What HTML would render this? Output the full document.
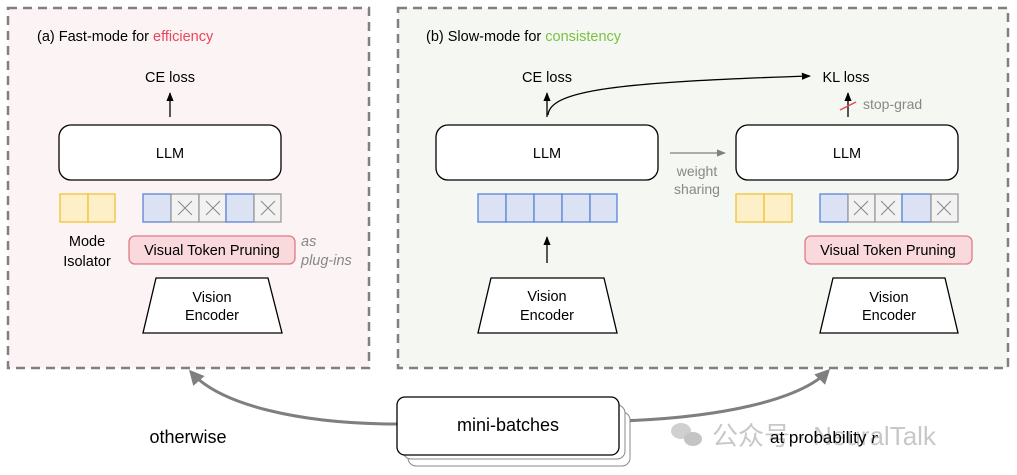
<!DOCTYPE html>
<html><head><meta charset="utf-8"><style>
html,body{margin:0;padding:0;background:#fff;width:1017px;height:475px;overflow:hidden}
text{font-family:"Liberation Sans","Noto Sans CJK SC",sans-serif}
</style></head><body>
<svg width="1017" height="475" viewBox="0 0 1017 475" xmlns="http://www.w3.org/2000/svg">
<defs>
<marker id="ab" viewBox="0 0 10 10" refX="9" refY="5" markerWidth="7" markerHeight="7" orient="auto"><path d="M0,1 L10,5 L0,9 z" fill="#000"/></marker>
<marker id="ag" viewBox="0 0 10 10" refX="9" refY="5" markerWidth="7" markerHeight="7" orient="auto"><path d="M0,1 L10,5 L0,9 z" fill="#808080"/></marker>
<marker id="agb" viewBox="0 0 10 10" refX="8" refY="5" markerWidth="5" markerHeight="5" orient="auto"><path d="M0,0 L10,5 L0,10 z" fill="#7f7f7f"/></marker>
</defs>
<rect x="8" y="8" width="361" height="360" fill="#fcf4f4" stroke="#808080" stroke-width="2.5" stroke-dasharray="9,6"/>
<rect x="398" y="8" width="610" height="360" fill="#f5f7f2" stroke="#808080" stroke-width="2.5" stroke-dasharray="9,6"/>
<text x="37" y="41" font-size="14.5" fill="#000">(a) Fast-mode for <tspan fill="#e9455a">efficiency</tspan></text>
<text x="170" y="82" font-size="14.5" text-anchor="middle">CE loss</text>
<line x1="170" y1="117" x2="170" y2="93" stroke="#000" stroke-width="1.3" marker-end="url(#ab)"/>
<rect x="59" y="125" width="222" height="55" rx="12" fill="#fff" stroke="#000" stroke-width="1.3"/>
<text x="170" y="158" font-size="14.5" text-anchor="middle">LLM</text>
<rect x="60" y="194" width="28" height="28" fill="#fdf0c8" stroke="#f1c232" stroke-width="1.3"/>
<rect x="88" y="194" width="27" height="28" fill="#fdf0c8" stroke="#f1c232" stroke-width="1.3"/>
<g stroke-width="1.3">
<rect x="143" y="194" width="28" height="28" fill="#dae2f4" stroke="#5b84d6"/>
<rect x="171" y="194" width="28" height="28" fill="#f2f2f2" stroke="#999"/>
<rect x="199" y="194" width="27" height="28" fill="#f2f2f2" stroke="#999"/>
<rect x="226" y="194" width="28" height="28" fill="#dae2f4" stroke="#5b84d6"/>
<rect x="254" y="194" width="27" height="28" fill="#f2f2f2" stroke="#999"/>
<path d="M178,201 l14,14 M192,201 l-14,14 M206,201 l14,14 M220,201 l-14,14 M261,201 l14,14 M275,201 l-14,14" stroke="#888" stroke-width="1"/>
</g>
<text x="87" y="246" font-size="14.5" text-anchor="middle">Mode</text>
<text x="87" y="266" font-size="14.5" text-anchor="middle">Isolator</text>
<rect x="129" y="236" width="166" height="28" rx="6" fill="#f9d9dc" stroke="#e07a85" stroke-width="1.3"/>
<text x="212" y="255" font-size="14.5" text-anchor="middle">Visual Token Pruning</text>
<text x="301" y="246" font-size="14.5" fill="#888" font-style="italic">as</text>
<text x="301" y="265" font-size="14.5" fill="#888" font-style="italic">plug-ins</text>
<polygon points="156,278 268,278 282,333 143,333" fill="#fff" stroke="#000" stroke-width="1.3"/>
<text x="212" y="302" font-size="14.5" text-anchor="middle">Vision</text>
<text x="212" y="320" font-size="14.5" text-anchor="middle">Encoder</text>
<text x="426" y="41" font-size="14.5" fill="#000">(b) Slow-mode for <tspan fill="#7cc142">consistency</tspan></text>
<text x="547" y="82" font-size="14.5" text-anchor="middle">CE loss</text>
<line x1="547" y1="117" x2="547" y2="93" stroke="#000" stroke-width="1.3" marker-end="url(#ab)"/>
<path d="M548,115 C550,90 620,82 810,76" fill="none" stroke="#000" stroke-width="1.3" marker-end="url(#ab)"/>
<rect x="436" y="125" width="222" height="55" rx="12" fill="#fff" stroke="#000" stroke-width="1.3"/>
<text x="547" y="158" font-size="14.5" text-anchor="middle">LLM</text>
<g fill="#dae2f4" stroke="#5b84d6" stroke-width="1.3">
<rect x="478" y="194" width="28" height="28"/><rect x="506" y="194" width="28" height="28"/><rect x="534" y="194" width="28" height="28"/><rect x="562" y="194" width="28" height="28"/><rect x="590" y="194" width="27" height="28"/>
</g>
<line x1="547" y1="263" x2="547" y2="237" stroke="#000" stroke-width="1.3" marker-end="url(#ab)"/>
<polygon points="491,278 604,278 617,333 478,333" fill="#fff" stroke="#000" stroke-width="1.3"/>
<text x="547" y="301" font-size="14.5" text-anchor="middle">Vision</text>
<text x="547" y="320" font-size="14.5" text-anchor="middle">Encoder</text>
<line x1="670" y1="153" x2="725" y2="153" stroke="#808080" stroke-width="1.3" marker-end="url(#ag)"/>
<text x="697" y="176" font-size="14" fill="#888" text-anchor="middle">weight</text>
<text x="697" y="194" font-size="14" fill="#888" text-anchor="middle">sharing</text>
<text x="846" y="82" font-size="14.5" text-anchor="middle">KL loss</text>
<line x1="848" y1="117" x2="848" y2="93" stroke="#000" stroke-width="1.3" marker-end="url(#ab)"/>
<line x1="840" y1="110" x2="856" y2="102" stroke="#e9455a" stroke-width="1.5"/>
<text x="863" y="109" font-size="14" fill="#888">stop-grad</text>
<rect x="736" y="125" width="222" height="55" rx="12" fill="#fff" stroke="#000" stroke-width="1.3"/>
<text x="847" y="158" font-size="14.5" text-anchor="middle">LLM</text>
<rect x="736" y="194" width="28" height="28" fill="#fdf0c8" stroke="#f1c232" stroke-width="1.3"/>
<rect x="764" y="194" width="28" height="28" fill="#fdf0c8" stroke="#f1c232" stroke-width="1.3"/>
<g stroke-width="1.3">
<rect x="820" y="194" width="28" height="28" fill="#dae2f4" stroke="#5b84d6"/>
<rect x="848" y="194" width="27" height="28" fill="#f2f2f2" stroke="#999"/>
<rect x="875" y="194" width="27" height="28" fill="#f2f2f2" stroke="#999"/>
<rect x="902" y="194" width="29" height="28" fill="#dae2f4" stroke="#5b84d6"/>
<rect x="931" y="194" width="27" height="28" fill="#f2f2f2" stroke="#999"/>
<path d="M854,201 l14,14 M868,201 l-14,14 M881,201 l14,14 M895,201 l-14,14 M937,201 l14,14 M951,201 l-14,14" stroke="#888" stroke-width="1"/>
</g>
<rect x="805" y="236" width="167" height="28" rx="6" fill="#f9d9dc" stroke="#e07a85" stroke-width="1.3"/>
<text x="888" y="255" font-size="14.5" text-anchor="middle">Visual Token Pruning</text>
<polygon points="833,278 945,278 958,333 820,333" fill="#fff" stroke="#000" stroke-width="1.3"/>
<text x="889" y="302" font-size="14.5" text-anchor="middle">Vision</text>
<text x="889" y="320" font-size="14.5" text-anchor="middle">Encoder</text>
<path d="M398,424 C300,424 220,405 191,372" fill="none" stroke="#7f7f7f" stroke-width="3" marker-end="url(#agb)"/>
<path d="M618,421 C720,418 800,400 828,371" fill="none" stroke="#7f7f7f" stroke-width="3" marker-end="url(#agb)"/>
<rect x="408" y="412" width="222" height="54" rx="8" fill="#fff" stroke="#888" stroke-width="1"/>
<rect x="403" y="405" width="222" height="54" rx="8" fill="#fff" stroke="#888" stroke-width="1"/>
<rect x="397" y="397" width="222" height="58" rx="8" fill="#fff" stroke="#000" stroke-width="1.3"/>
<text x="508" y="431" font-size="18" text-anchor="middle">mini-batches</text>
<text x="188" y="443" font-size="18" text-anchor="middle">otherwise</text>
<ellipse cx="681" cy="431" rx="10" ry="8" fill="#d0d0d0"/>
<ellipse cx="693" cy="439" rx="9" ry="7" fill="#c4c4c4"/>
<text x="712" y="445" font-size="26" fill="#c8c8c8">公众号 · NeuralTalk</text>
<text x="770" y="443" font-size="17">at probability <tspan font-style="italic" font-family="Liberation Serif">r</tspan></text>
</svg>
</body></html>
